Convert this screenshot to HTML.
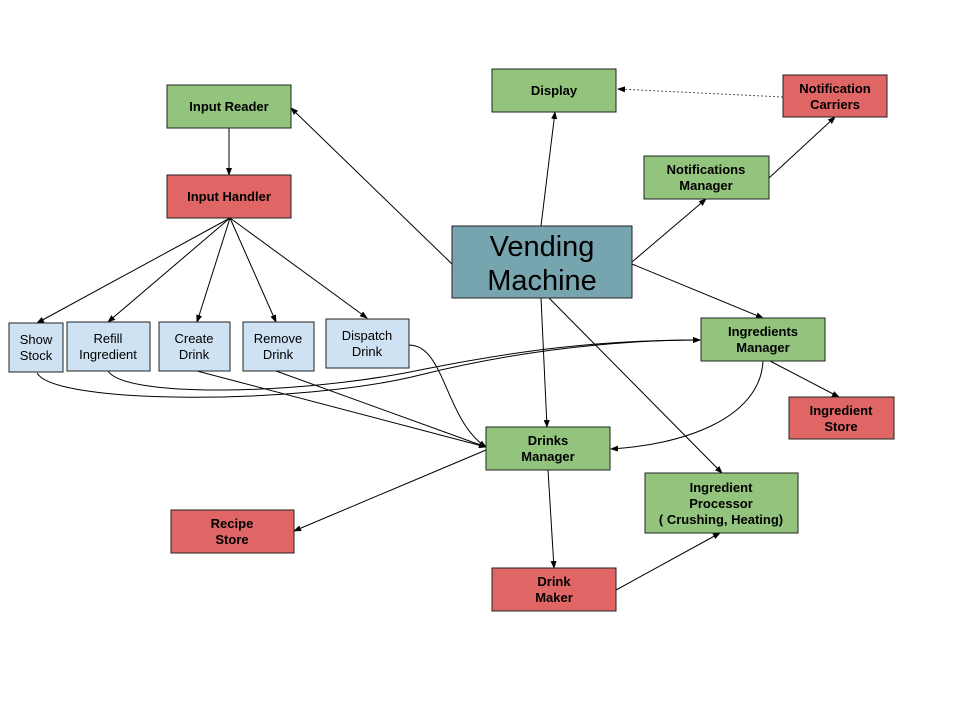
<!DOCTYPE html>
<html><head><meta charset="utf-8"><style>
body{margin:0;background:#fff}
svg{display:block}
text{font-family:"Liberation Sans",Arial,sans-serif;font-size:13px;text-anchor:middle}
.b{font-weight:bold}
.g{fill:#93c47d;stroke:#222;stroke-width:1}
.r{fill:#e06666;stroke:#222;stroke-width:1}
.l{fill:#cfe2f3;stroke:#222;stroke-width:1}
.ln{stroke:#000;stroke-width:1;fill:none;marker-end:url(#a)}
</style></head><body>
<svg width="960" height="720" viewBox="0 0 960 720">
<defs><marker id="a" markerWidth="8" markerHeight="8" refX="7" refY="4" orient="auto" markerUnits="userSpaceOnUse"><path d="M0,1 L8,4 L0,7 z" fill="#000"/></marker></defs>
<!-- connectors -->
<path class="ln" d="M452,264 L291,108"/>
<path class="ln" d="M229,128 L229,175"/>
<path class="ln" d="M230,218 L37,323"/>
<path class="ln" d="M230,218 L108,322"/>
<path class="ln" d="M230,218 L197,322"/>
<path class="ln" d="M230,218 L276,322"/>
<path class="ln" d="M230,218 L367,318"/>
<path class="ln" d="M541,226 L555,112"/>
<path d="M783,97 L618,89" stroke="#555" stroke-dasharray="2,2" fill="none" marker-end="url(#a)"/>
<path class="ln" d="M632,262 L706,199"/>
<path class="ln" d="M769,178 L835,117"/>
<path class="ln" d="M632,264 L763,318"/>
<path class="ln" d="M541,298 L547,427"/>
<path class="ln" d="M549,298 L722,473"/>
<path class="ln" d="M37,373 C55,405 300,405 420,375 C500,355 600,340 700,340"/>
<path class="ln" d="M108,371 C125,398 300,395 420,370 C520,350 600,340 700,340"/>
<path class="ln" d="M197,371 L486,447"/>
<path class="ln" d="M276,371 L486,447"/>
<path class="ln" d="M409,345 C445,345 445,420 486,447"/>
<path class="ln" d="M763,361 C760,420 680,445 611,449"/>
<path class="ln" d="M770,361 L839,397"/>
<path class="ln" d="M486,450 L294,531"/>
<path class="ln" d="M548,470 L554,568"/>
<path class="ln" d="M616,590 L720,533"/>
<!-- boxes -->
<rect class="g" x="167" y="85" width="124" height="43"/><text class="b" x="229" y="111">Input Reader</text>
<rect class="r" x="167" y="175" width="124" height="43"/><text class="b" x="229" y="201">Input Handler</text>
<rect class="g" x="492" y="69" width="124" height="43"/><text class="b" x="554" y="95">Display</text>
<rect class="r" x="783" y="75" width="104" height="42"/><text class="b" x="835" y="93">Notification</text><text class="b" x="835" y="109">Carriers</text>
<rect class="g" x="644" y="156" width="125" height="43"/><text class="b" x="706" y="174">Notifications</text><text class="b" x="706" y="190">Manager</text>
<rect x="452" y="226" width="180" height="72" fill="#76a5af" stroke="#222"/><text x="542" y="256" style="font-size:29px">Vending</text><text x="542" y="290" style="font-size:29px">Machine</text>
<rect class="l" x="9" y="323" width="54" height="49"/><text x="36" y="344">Show</text><text x="36" y="360">Stock</text>
<rect class="l" x="67" y="322" width="83" height="49"/><text x="108" y="343">Refill</text><text x="108" y="359">Ingredient</text>
<rect class="l" x="159" y="322" width="71" height="49"/><text x="194" y="343">Create</text><text x="194" y="359">Drink</text>
<rect class="l" x="243" y="322" width="71" height="49"/><text x="278" y="343">Remove</text><text x="278" y="359">Drink</text>
<rect class="l" x="326" y="319" width="83" height="49"/><text x="367" y="340">Dispatch</text><text x="367" y="356">Drink</text>
<rect class="g" x="701" y="318" width="124" height="43"/><text class="b" x="763" y="336">Ingredients</text><text class="b" x="763" y="352">Manager</text>
<rect class="r" x="789" y="397" width="105" height="42"/><text class="b" x="841" y="415">Ingredient</text><text class="b" x="841" y="431">Store</text>
<rect class="g" x="486" y="427" width="124" height="43"/><text class="b" x="548" y="445">Drinks</text><text class="b" x="548" y="461">Manager</text>
<rect class="r" x="171" y="510" width="123" height="43"/><text class="b" x="232" y="528">Recipe</text><text class="b" x="232" y="544">Store</text>
<rect class="g" x="645" y="473" width="153" height="60"/><text class="b" x="721" y="492">Ingredient</text><text class="b" x="721" y="508">Processor</text><text class="b" x="721" y="524">( Crushing, Heating)</text>
<rect class="r" x="492" y="568" width="124" height="43"/><text class="b" x="554" y="586">Drink</text><text class="b" x="554" y="602">Maker</text>
</svg>
</body></html>
